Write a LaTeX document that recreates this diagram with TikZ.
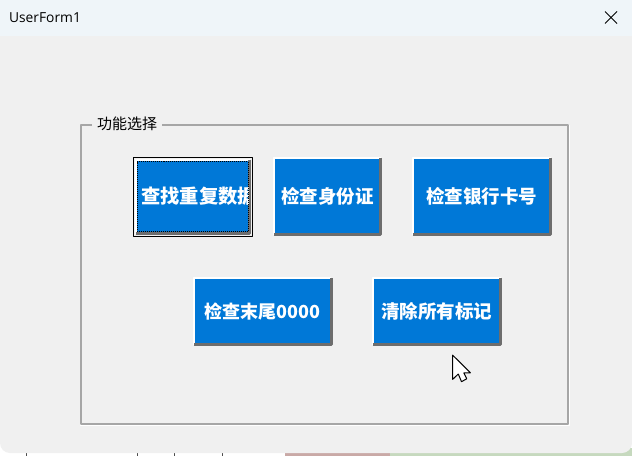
\documentclass[tikz,border=0pt]{standalone}
\usepackage{fontspec}
\setmainfont{Open Sans}
\newfontfamily\cjk{Noto Sans CJK SC}
\definecolor{formgray}{HTML}{F0F0F0}
\definecolor{titlebar}{HTML}{EFF5F9}
\definecolor{btnblue}{HTML}{0078D7}
\definecolor{btnshade}{HTML}{6D6D6D}
\definecolor{framegray}{HTML}{A6A6A6}
\definecolor{rowpink}{HTML}{C9A9A6}
\definecolor{rowgreen}{HTML}{C6D9BE}
\tikzset{
  btn/.style={fill=btnblue,draw=none,inner sep=0pt,text=white,font=\cjk\bfseries\fontsize{18.5bp}{20bp}\selectfont},
  btnlight/.style={white,line width=2bp},
  btndark/.style={btnshade,line width=3bp},
  caption/.style={inner sep=0pt,font=\fontsize{13.8bp}{18bp}\selectfont},
}
\begin{document}
\begin{tikzpicture}[x=1bp,y=-1bp,line join=bevel]
\useasboundingbox (0,0) rectangle (632,456);
%% what shows under the window
\fill[white] (0,440) rectangle (632,456);
\fill[rowpink] (285,448) rectangle (390,456);
\fill[rowgreen] (390,448) rectangle (632,456);
\foreach \x in {26,137,174,222} {
  \draw [black!70,line width=0.6bp] (\x,453) -- (\x,456);
}
%% window
\fill[formgray,rounded corners=10bp] (0,0) rectangle (632,453);
\fill[titlebar] (0,0) rectangle (632,36);
\node (title) at (45,18) [caption] {UserForm1};
\coordinate (closenw) at (605,11.5);
\coordinate (closese) at (617,23.5);
\coordinate (closene) at (617,11.5);
\coordinate (closesw) at (605,23.5);
\draw [black,line width=1bp] (closenw) -- (closese);
\draw [black,line width=1bp] (closene) -- (closesw);
%% frame
\node (groupglow) at (325,275.5) [draw=white,line width=1bp,minimum width=489bp,minimum height=299bp] {};
\node (group) at (324.5,274.5) [draw=framegray,line width=1.2bp,minimum width=487bp,minimum height=299bp] {};
\node (grouplabel) at (127,123.5) [caption,font=\cjk\fontsize{15bp}{18bp}\selectfont,fill=formgray,minimum width=70bp,minimum height=16bp] {功能选择};
%% buttons
\node (find) at (192.75,196.75) [btn,minimum width=113.5bp,minimum height=73.5bp] {};
\node (idcard) at (327.25,196.25) [btn,minimum width=106.5bp,minimum height=76.5bp] {检查身份证};
\node (bank) at (481.75,196.25) [btn,minimum width=137.5bp,minimum height=76.5bp] {检查银行卡号};
\node (tail) at (262.75,311.25) [btn,minimum width=136.5bp,minimum height=66.5bp,font=\cjk\bfseries\fontsize{18bp}{20bp}\selectfont] {检查末尾0000};
\node (clear) at (436.75,311.25) [btn,minimum width=127.5bp,minimum height=66.5bp] {清除所有标记};
\foreach \b in {find,idcard,bank,tail,clear} {
  \draw [btnlight] (\b.south west) -- (\b.north west) -- (\b.north east);
  \draw [btndark] (\b.south west) -- (\b.south east) -- (\b.north east);
}
%% first button has the focus
\begin{scope}
\clip (137,162) rectangle (248,232);
\node (findtext) at (199,196.5) [btn,fill=none,font=\cjk\bfseries\fontsize{19.3bp}{20bp}\selectfont] {查找重复数据};
\end{scope}
\node (focus) at (192.5,197) [draw=black,densely dotted,line width=1bp,minimum width=111bp,minimum height=70bp] {};
\node (findedge) at (193,197) [draw=black,line width=1.5bp,minimum width=119bp,minimum height=79bp] {};
%% mouse pointer
\draw [black,fill=white,line width=1bp] (452.5,355) -- (452.5,379.5) -- (458.3,374) -- (461.5,381.7) -- (466.7,378.8) -- (463.8,372.8) -- (470.5,372.8) -- cycle;
\end{tikzpicture}
\end{document}
